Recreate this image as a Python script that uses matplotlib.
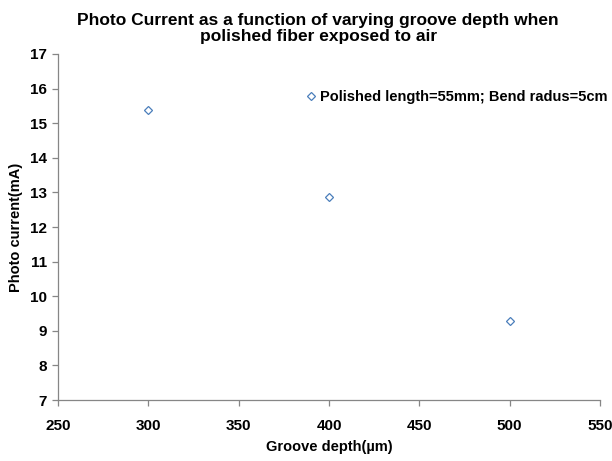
import matplotlib
matplotlib.use("Agg")
import matplotlib.pyplot as plt

plt.rcParams['font.family'] = ['Liberation Sans', 'DejaVu Sans']

# data
groove_depth = [300, 400, 500]
photo_current = [15.38, 12.86, 9.29]
series_label = "Polished length=55mm; Bend radus=5cm"
x_ticks = [250, 300, 350, 400, 450, 500, 550]
y_ticks = [7, 8, 9, 10, 11, 12, 13, 14, 15, 16, 17]

axis_grey = '#868686'
marker_blue = '#4a7ebb'

fig = plt.figure(figsize=(6.12, 4.61), dpi=100)
ax = fig.add_axes([58 / 612, 1 - 400 / 461, 542 / 612, 346 / 461])

ax.plot(groove_depth, photo_current, linestyle='none', marker='D',
        markersize=4.5, markerfacecolor='white', markeredgecolor=marker_blue,
        markeredgewidth=0.9, label=series_label)

ax.set_xlim(250, 550)
ax.set_ylim(7, 17)
ax.set_xticks(x_ticks)
ax.set_yticks(y_ticks)
ax.tick_params(axis='both', direction='out', length=4, width=0.9,
               color=axis_grey, labelsize=11)
ax.tick_params(axis='x', pad=10)
ax.tick_params(axis='y', pad=4)
for lab in ax.get_xticklabels() + ax.get_yticklabels():
    lab.set_fontweight('bold')

for side in ['top', 'right']:
    ax.spines[side].set_visible(False)
for side in ['left', 'bottom']:
    ax.spines[side].set_color(axis_grey)
    ax.spines[side].set_linewidth(0.9)

ax.set_xlabel("Groove depth(\u00b5m)", fontsize=10.5, fontweight='bold', labelpad=5)
ax.set_ylabel("Photo current(mA)", fontsize=10.5, fontweight='bold', labelpad=5)

fig.text(0.52, 0.972, "Photo Current as a function of varying groove depth when\npolished fiber exposed to air",
         ha='center', va='top', fontsize=12.5, fontweight='bold', linespacing=1.1)

leg = ax.legend(loc='center left', bbox_to_anchor=(0.445, 0.875), frameon=False,
                handlelength=0.6, handletextpad=0.3, borderpad=0,
                prop={'weight': 'bold', 'size': 10.5})

fig.savefig("out.png", dpi=100)
